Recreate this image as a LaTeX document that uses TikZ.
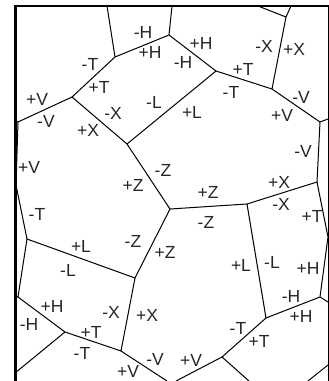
\documentclass[tikz,border=0pt]{standalone}
\usepackage{fontspec}
\setmainfont{Liberation Sans}

\begin{document}
\begin{tikzpicture}[
    x=1pt, y=-1pt,
    aresta/.style={line width=1pt, draw=black},
    borda/.style={draw=black, line cap=rect},
    rotulo/.style={font=\fontsize{17.5}{17.5}\selectfont, text=black!85, inner sep=0pt}
]
\useasboundingbox (0,0) rectangle (329,381);

% Vértices
\coordinate (a) at (115,57);
\coordinate (b) at (169,35);
\coordinate (c) at (216,71);
\coordinate (d) at (272,89);
\coordinate (e) at (286,17);
\coordinate (f) at (320,122);
\coordinate (g) at (317,182);
\coordinate (h) at (247,204);
\coordinate (i) at (170,209);
\coordinate (j) at (266,318);
\coordinate (k) at (320,297);
\coordinate (l) at (222,357);
\coordinate (m) at (127,144);
\coordinate (n) at (135,278);
\coordinate (o) at (72,97);
\coordinate (p) at (18,122);
\coordinate (q) at (27,239);
\coordinate (r) at (18,297);
\coordinate (s) at (65,332);
\coordinate (t) at (121,351);
\coordinate (u) at (16,185);
\coordinate (v) at (328,237);
\coordinate (w) at (167,381);
\coordinate (x) at (249,381);
\coordinate (y) at (176,381);

% Pontas livres
\coordinate (topoa) at (107,6);
\coordinate (topob) at (172,6);
\coordinate (topoc) at (258,6);
\coordinate (topoe) at (291,6);
\coordinate (dirf) at (328,119);
\coordinate (dirk) at (328,302);
\coordinate (dirz) at (328,365);
\coordinate (baixoz) at (308,381);
\coordinate (esqp) at (15,121);
\coordinate (esqr) at (15,296);
\coordinate (esqs) at (15,373);

% Moldura
\coordinate (mse) at (15,6);
\coordinate (msd) at (328.5,6);
\coordinate (mie) at (15,381);
\coordinate (mid) at (328.5,381);
\draw[borda, line width=3pt] (mie) -- (mse);
\draw[borda, line width=2.4pt] (mse) -- (msd);
\draw[draw=black, line width=1pt] (msd) -- (mid);

% Arestas
\draw[aresta] (topoa) -- (a) -- (b) -- (c) -- (d) -- (f) -- (g) -- (h) -- (i) -- (m) -- (o) -- (a);
\draw[aresta] (topob) -- (b);
\draw[aresta] (c) -- (m);
\draw[aresta] (d) -- (e) -- (topoe);
\draw[aresta] (e) -- (topoc);
\draw[aresta] (f) -- (dirf);
\draw[aresta] (g) -- (v) -- (k) -- (j) -- (h);
\draw[aresta] (k) -- (dirk);
\draw[aresta] (j) -- (l) -- (x);
\draw[aresta] (l) -- (y);
\draw[aresta] (baixoz) -- (dirz);
\draw[aresta] (i) -- (n) -- (q) -- (u) -- (p) -- (o);
\draw[aresta] (p) -- (esqp);
\draw[aresta] (q) -- (r) -- (s) -- (t) -- (n);
\draw[aresta] (r) -- (esqr);
\draw[aresta] (s) -- (esqs);
\draw[aresta] (t) -- (w);

% Rótulos
\node[rotulo] (h1) at (143,32) {-H};
\node[rotulo] (h2) at (150,52) {+H};
\node[rotulo] (h3) at (201,43) {+H};
\node[rotulo] (h4) at (183,62) {-H};
\node[rotulo] (h5) at (52,306) {+H};
\node[rotulo] (h6) at (29,324) {-H};
\node[rotulo] (h7) at (308,268) {+H};
\node[rotulo] (h8) at (291,296) {-H};
\node[rotulo] (h9) at (301,316) {+H};
\node[rotulo] (t1) at (90,64) {-T};
\node[rotulo] (t2) at (99,87) {+T};
\node[rotulo] (t3) at (243,69) {+T};
\node[rotulo] (t4) at (231,92) {-T};
\node[rotulo] (t5) at (37,214) {-T};
\node[rotulo] (t6) at (91,332) {+T};
\node[rotulo] (t7) at (82,353) {-T};
\node[rotulo] (t8) at (312,216) {+T};
\node[rotulo] (t9) at (238,328) {-T};
\node[rotulo] (t10) at (259,341) {+T};
\node[rotulo] (v1) at (37,99) {+V};
\node[rotulo] (v2) at (46,121) {-V};
\node[rotulo] (v3) at (29,167) {+V};
\node[rotulo] (v4) at (301,97) {-V};
\node[rotulo] (v5) at (282,115) {+V};
\node[rotulo] (v6) at (303,151) {-V};
\node[rotulo] (v7) at (128,371.5) {+V};
\node[rotulo] (v8) at (155,359) {-V};
\node[rotulo] (v9) at (191,360) {+V};
\node[rotulo] (x1) at (113,113) {-X};
\node[rotulo] (x2) at (88,130) {+X};
\node[rotulo] (x3) at (264,46) {-X};
\node[rotulo] (x4) at (294,49) {+X};
\node[rotulo] (x5) at (279,182) {+X};
\node[rotulo] (x6) at (281,204) {-X};
\node[rotulo] (x7) at (111,312) {-X};
\node[rotulo] (x8) at (147,315) {+X};
\node[rotulo] (l1) at (154,102) {-L};
\node[rotulo] (l2) at (192,112) {+L};
\node[rotulo] (l3) at (81,246) {+L};
\node[rotulo] (l4) at (68,270) {-L};
\node[rotulo] (l5) at (241,265) {+L};
\node[rotulo] (l6) at (272,262) {-L};
\node[rotulo] (z1) at (163,170) {-Z};
\node[rotulo] (z2) at (133,185) {+Z};
\node[rotulo] (z3) at (208,192) {+Z};
\node[rotulo] (z4) at (206,222) {-Z};
\node[rotulo] (z5) at (133,241) {-Z};
\node[rotulo] (z6) at (165,252) {+Z};

\end{tikzpicture}
\end{document}
